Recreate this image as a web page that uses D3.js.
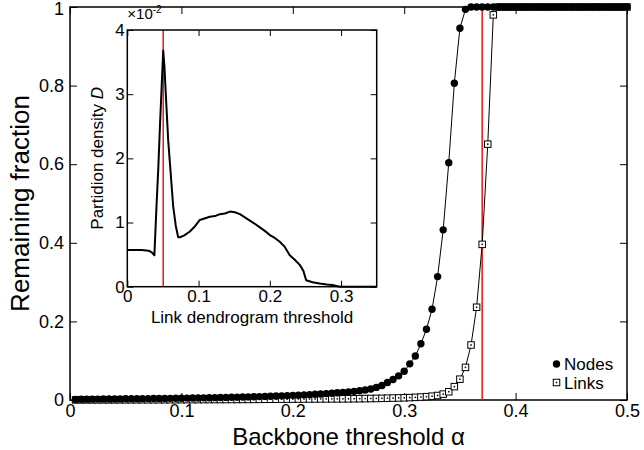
<!DOCTYPE html>
<html>
<head>
<meta charset="utf-8">
<script src="https://cdn.jsdelivr.net/npm/d3@7"></script>
<style>
  body { margin: 0; background: #fff; }
</style>
</head>
<body>
<script>
// backbone threshold alpha, one point every 0.005
const alpha = [
  0.005, 0.010, 0.015, 0.020, 0.025, 0.030, 0.035, 0.040, 0.045, 0.050,
  0.055, 0.060, 0.065, 0.070, 0.075, 0.080, 0.085, 0.090, 0.095, 0.100,
  0.105, 0.110, 0.115, 0.120, 0.125, 0.130, 0.135, 0.140, 0.145, 0.150,
  0.155, 0.160, 0.165, 0.170, 0.175, 0.180, 0.185, 0.190, 0.195, 0.200,
  0.205, 0.210, 0.215, 0.220, 0.225, 0.230, 0.235, 0.240, 0.245, 0.250,
  0.255, 0.260, 0.265, 0.270, 0.275, 0.280, 0.285, 0.290, 0.295, 0.300,
  0.305, 0.310, 0.315, 0.320, 0.325, 0.330, 0.335, 0.340, 0.345, 0.350,
  0.355, 0.360, 0.365, 0.370, 0.375, 0.380, 0.385, 0.390, 0.395, 0.400,
  0.405, 0.410, 0.415, 0.420, 0.425, 0.430, 0.435, 0.440, 0.445, 0.450,
  0.455, 0.460, 0.465, 0.470, 0.475, 0.480, 0.485, 0.490, 0.495, 0.500
]

const nodes = [
  0.0015, 0.0018, 0.0020, 0.0022, 0.0023, 0.0025, 0.0026, 0.0027, 0.0028, 0.0030,
  0.0031, 0.0032, 0.0034, 0.0035, 0.0037, 0.0039, 0.0040, 0.0042, 0.0044, 0.0046,
  0.0048, 0.0050, 0.0052, 0.0055, 0.0057, 0.0060, 0.0063, 0.0066, 0.0069, 0.0072,
  0.0075, 0.0079, 0.0083, 0.0087, 0.0091, 0.0096, 0.0101, 0.0106, 0.0112, 0.0118,
  0.0124, 0.0131, 0.0138, 0.0146, 0.0154, 0.0163, 0.0172, 0.0183, 0.0194, 0.0206,
  0.0220, 0.0236, 0.0255, 0.0280, 0.0320, 0.0370, 0.0445, 0.0520, 0.0615, 0.0730,
  0.0920, 0.1120, 0.1430, 0.1800, 0.2310, 0.3140, 0.4330, 0.6040, 0.8060, 0.9460,
  0.9940, 1, 1, 1, 1, 1, 1, 1, 1, 1,
  1, 1, 1, 1, 1, 1, 1, 1, 1, 1,
  1, 1, 1, 1, 1, 1, 1, 1, 1, 1
]

const links = [
  0.0002, 0.0002, 0.0003, 0.0003, 0.0003, 0.0004, 0.0004, 0.0004, 0.0005, 0.0005,
  0.0005, 0.0006, 0.0006, 0.0006, 0.0007, 0.0007, 0.0007, 0.0008, 0.0008, 0.0009,
  0.0009, 0.0010, 0.0010, 0.0011, 0.0011, 0.0012, 0.0012, 0.0013, 0.0013, 0.0014,
  0.0015, 0.0015, 0.0016, 0.0017, 0.0018, 0.0019, 0.0020, 0.0021, 0.0022, 0.0023,
  0.0024, 0.0025, 0.0026, 0.0027, 0.0028, 0.0028, 0.0029, 0.0029, 0.0030, 0.0030,
  0.0032, 0.0034, 0.0036, 0.0038, 0.0040, 0.0043, 0.0046, 0.0049, 0.0052, 0.0056,
  0.0061, 0.0067, 0.0075, 0.0085, 0.0097, 0.0115, 0.0150, 0.0210, 0.0340, 0.0530,
  0.0830, 0.1400, 0.2360, 0.3960, 0.6510, 0.9800, 1, 1, 1, 1,
  1, 1, 1, 1, 1, 1, 1, 1, 1, 1,
  1, 1, 1, 1, 1, 1, 1, 1, 1, 1
]

// inset: partition density D (x 1e-2) against link dendrogram threshold
const dendroX = [
  0, 0.010, 0.020, 0.030, 0.034, 0.038, 0.041, 0.0434, 0.046, 0.0485,
  0.0504, 0.052, 0.0545, 0.0574, 0.061, 0.0644, 0.068, 0.0714, 0.0738, 0.080,
  0.0878, 0.094, 0.1018, 0.1158, 0.123, 0.130, 0.137, 0.144, 0.151, 0.158,
  0.165, 0.172, 0.179, 0.186, 0.193, 0.200, 0.207, 0.214, 0.221, 0.228,
  0.235, 0.242, 0.247, 0.251, 0.260, 0.270, 0.280, 0.288, 0.298, 0.350
]
const density = [
  0.57, 0.57, 0.57, 0.56, 0.54, 0.49, 1.26, 1.82, 2.55, 3.19,
  3.68, 3.45, 2.90, 2.28, 1.75, 1.25, 0.95, 0.77, 0.77, 0.80,
  0.86, 0.93, 1.04, 1.09, 1.10, 1.13, 1.14, 1.17, 1.16, 1.13,
  1.08, 1.03, 0.98, 0.925, 0.87, 0.805, 0.76, 0.70, 0.62, 0.49,
  0.42, 0.34, 0.25, 0.10, 0.07, 0.05, 0.035, 0.026, 0, 0
]

const mainXTicks = [0, 0.1, 0.2, 0.3, 0.4, 0.5]
const mainYTicks = [0, 0.2, 0.4, 0.6, 0.8, 1]
const insetXTicks = [0, 0.1, 0.2, 0.3]
const insetYTicks = [0, 1, 2, 3, 4]
const mainCut = 0.37
const insetCut = 0.0504
const legendLabels = ['Nodes', 'Links']

const width = 644
const height = 450
const font = "'Liberation Sans', Arial, Helvetica, sans-serif"

const x = d3.scaleLinear([0, 0.5], [70, 627])
const y = d3.scaleLinear([0, 1], [400, 7])
const ix = d3.scaleLinear([0, 0.35], [127.3, 376.7])
const iy = d3.scaleLinear([0, 4], [286.7, 30])

const fmt = d => String(d)

const svg = d3.create('svg')
  .attr('width', width)
  .attr('height', height)
  .attr('viewBox', [0, 0, width, height])
  .attr('font-family', font)

const styleAxis = (g, size) => g
  .attr('font-family', font)
  .attr('font-size', size)
  .call(g => g.select('.domain').remove())
  .call(g => g.selectAll('.tick line').attr('stroke', '#000').attr('stroke-width', 1))
  .call(g => g.selectAll('.tick text').attr('fill', '#000'))

// main axes, ticks pointing inwards on all four sides
svg.append('g')
  .attr('transform', `translate(0,${y(0)})`)
  .call(d3.axisBottom(x).tickValues(mainXTicks).tickFormat(fmt).tickSize(-7).tickPadding(4))
  .call(g => styleAxis(g, 18))
svg.append('g')
  .attr('transform', `translate(0,${y(1)})`)
  .call(d3.axisTop(x).tickValues(mainXTicks).tickFormat('').tickSize(-7))
  .call(g => styleAxis(g, 18))
svg.append('g')
  .attr('transform', `translate(${x(0)},0)`)
  .call(d3.axisLeft(y).tickValues(mainYTicks).tickFormat(fmt).tickSize(-7).tickPadding(6))
  .call(g => styleAxis(g, 18))
  .call(g => g.selectAll('.tick text').filter(d => d === 1).attr('dy', '0.4em'))
svg.append('g')
  .attr('transform', `translate(${x(0.5)},0)`)
  .call(d3.axisRight(y).tickValues(mainYTicks).tickFormat('').tickSize(-7))
  .call(g => styleAxis(g, 18))

svg.append('rect')
  .attr('x', x(0)).attr('y', y(1))
  .attr('width', x(0.5) - x(0)).attr('height', y(0) - y(1))
  .attr('fill', 'none').attr('stroke', '#000').attr('stroke-width', 1.5)

svg.append('text')
  .attr('transform', `translate(28.5,${(y(0) + y(1)) / 2}) rotate(-90)`)
  .attr('text-anchor', 'middle')
  .attr('font-size', 26)
  .text('Remaining fraction')

svg.append('text')
  .attr('x', (x(0) + x(0.5)) / 2)
  .attr('y', 445)
  .attr('text-anchor', 'middle')
  .attr('font-size', 24)
  .text('Backbone threshold α')

svg.append('line')
  .attr('x1', x(mainCut)).attr('x2', x(mainCut))
  .attr('y1', y(1)).attr('y2', y(0))
  .attr('stroke', '#e8151b').attr('stroke-width', 1.5)

const line = d3.line()
  .x((_, i) => x(alpha[i]))
  .y(d => y(d))

svg.append('path')
  .attr('d', line(links))
  .attr('fill', 'none').attr('stroke', '#000').attr('stroke-width', 1)
svg.append('path')
  .attr('d', line(nodes))
  .attr('fill', 'none').attr('stroke', '#000').attr('stroke-width', 1)

const sq = 6.5

const square = (g, cx, cy) => {
  g.append('rect')
    .attr('x', cx - sq / 2).attr('y', cy - sq / 2)
    .attr('width', sq).attr('height', sq)
    .attr('fill', '#fff').attr('stroke', '#000').attr('stroke-width', 1)
  g.append('rect')
    .attr('x', cx - 0.75).attr('y', cy - 0.75)
    .attr('width', 1.5).attr('height', 1.5)
    .attr('fill', '#000')
}

const linkMarks = svg.append('g')
links.forEach((d, i) => square(linkMarks, x(alpha[i]), y(d)))

svg.append('g')
  .selectAll('circle')
  .data(nodes)
  .join('circle')
  .attr('cx', (_, i) => x(alpha[i]))
  .attr('cy', d => y(d))
  .attr('r', 3.7)
  .attr('fill', '#000')

// legend
const legend = svg.append('g')
legend.append('circle')
  .attr('cx', 556.5).attr('cy', 364).attr('r', 3.7).attr('fill', '#000')
square(legend, 556.5, 382.5)
legend.selectAll('text')
  .data(legendLabels)
  .join('text')
  .attr('x', 564)
  .attr('y', (_, i) => 369.5 + i * 19)
  .attr('font-size', 17)
  .text(d => d)

// inset
const inset = svg.append('g')

inset.append('rect')
  .attr('x', ix(0)).attr('y', iy(4))
  .attr('width', ix(0.35) - ix(0)).attr('height', iy(0) - iy(4))
  .attr('fill', '#fff')

inset.append('g')
  .attr('transform', `translate(0,${iy(0)})`)
  .call(d3.axisBottom(ix).tickValues(insetXTicks).tickFormat(fmt).tickSize(-6).tickPadding(3.5))
  .call(g => styleAxis(g, 17))
inset.append('g')
  .attr('transform', `translate(0,${iy(4)})`)
  .call(d3.axisTop(ix).tickValues(insetXTicks).tickFormat('').tickSize(-6))
  .call(g => styleAxis(g, 17))
inset.append('g')
  .attr('transform', `translate(${ix(0)},0)`)
  .call(d3.axisLeft(iy).tickValues(insetYTicks).tickFormat(fmt).tickSize(-6).tickPadding(2.5))
  .call(g => styleAxis(g, 17))
inset.append('g')
  .attr('transform', `translate(${ix(0.35)},0)`)
  .call(d3.axisRight(iy).tickValues(insetYTicks).tickFormat('').tickSize(-6))
  .call(g => styleAxis(g, 17))

inset.append('line')
  .attr('x1', ix(insetCut)).attr('x2', ix(insetCut))
  .attr('y1', iy(4)).attr('y2', iy(0))
  .attr('stroke', '#e8151b').attr('stroke-width', 1.5)

inset.append('path')
  .attr('d', d3.line().x((_, i) => ix(dendroX[i])).y(d => iy(d))(density))
  .attr('fill', 'none').attr('stroke', '#000').attr('stroke-width', 2)
  .attr('stroke-linejoin', 'round')

inset.append('rect')
  .attr('x', ix(0)).attr('y', iy(4))
  .attr('width', ix(0.35) - ix(0)).attr('height', iy(0) - iy(4))
  .attr('fill', 'none').attr('stroke', '#000').attr('stroke-width', 1.5)

const expo = inset.append('text')
  .attr('x', ix(0))
  .attr('y', 19)
  .attr('font-size', 15)
expo.append('tspan').text('×10')
expo.append('tspan').attr('font-size', 10).attr('dy', -6).text('-2')

inset.append('text')
  .attr('transform', `translate(103,${(iy(0) + iy(4)) / 2}) rotate(-90)`)
  .attr('text-anchor', 'middle')
  .attr('font-size', 17)
  .call(t => t.append('tspan').text('Partidion density '))
  .call(t => t.append('tspan').attr('font-style', 'italic').text('D'))

inset.append('text')
  .attr('x', (ix(0) + ix(0.35)) / 2)
  .attr('y', 323)
  .attr('text-anchor', 'middle')
  .attr('font-size', 17)
  .text('Link dendrogram threshold')

d3.select('body').append(() => svg.node())
</script>
</body>
</html>
